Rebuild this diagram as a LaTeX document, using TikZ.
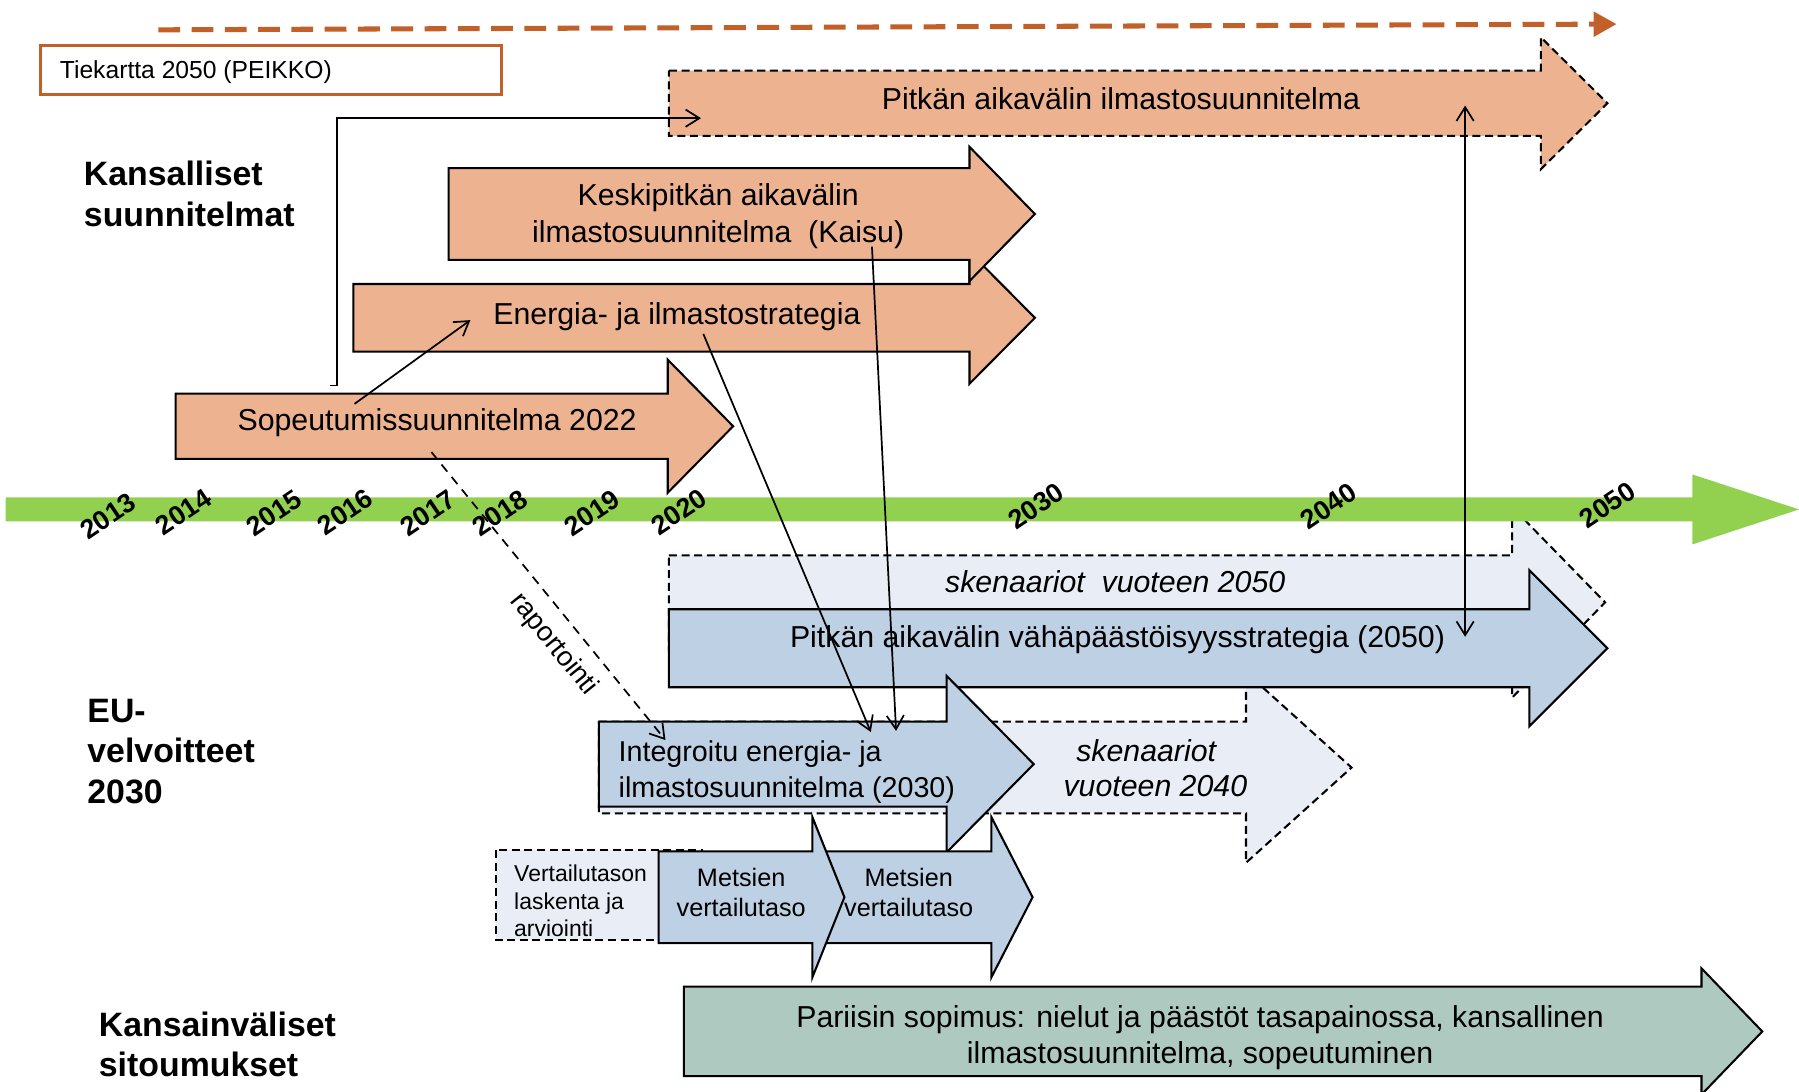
\documentclass[tikz,border=0pt]{standalone}
\usepackage{fontspec}
\setmainfont{Liberation Sans}
\usetikzlibrary{arrows.meta}
\definecolor{salmon}{RGB}{237,178,144}
\definecolor{bluefill}{RGB}{190,208,227}
\definecolor{lightfill}{RGB}{233,238,246}
\definecolor{parisfill}{RGB}{174,201,192}
\definecolor{greenbar}{RGB}{146,208,80}
\definecolor{rust}{RGB}{194,96,42}
% [style] xleft xbase xtip ycenter bodyhalf headhalf
\newcommand{\fatarrow}[7][]{\path[#1] (#2,#5-#6) -- (#3,#5-#6) -- (#3,#5-#7) -- (#4,#5) -- (#3,#5+#7) -- (#3,#5+#6) -- (#2,#5+#6) -- cycle;}
\tikzset{
  outl/.style={draw=black, line width=1.8pt, line join=miter},
  dsh/.style={dash pattern=on 7pt off 4pt},
  barb/.tip={Straight Barb[length=12pt,width=15pt,line width=1.5pt]},
  conn/.style={draw=black, line width=1.5pt, -barb},
  lbl/.style={inner sep=0pt, anchor=base},
  fbig/.style={font=\fontsize{26.4}{32}\selectfont},
  fbigi/.style={font=\fontsize{26.4}{32}\selectfont\itshape},
  fint/.style={font=\fontsize{25}{30}\selectfont},
  fmet/.style={font=\fontsize{22}{26}\selectfont},
  fver/.style={font=\fontsize{20}{24}\selectfont},
  ftie/.style={font=\fontsize{21.5}{26}\selectfont},
  fsec/.style={font=\fontsize{29.5}{36}\selectfont\bfseries},
  year/.style={inner sep=0pt, rotate=34, font=\fontsize{23.5}{26}\selectfont\bfseries},
}
\begin{document}
\begin{tikzpicture}[x=1pt,y=-1pt]
\useasboundingbox (0,0) rectangle (1568,951);

% road map dashed arrow
\coordinate (c-road0) at (138,26);
\coordinate (c-road1) at (1409,21);
\draw[rust, line width=4.4pt, dash pattern=on 19pt off 10pt, -{Triangle[length=20pt,width=21pt]}] (c-road0) -- (c-road1);

% Tiekartta box
\path[draw=rust, line width=2.5pt, fill=white] (35,40) rectangle (437,82);
\node[lbl, ftie, anchor=base west] (t-tie) at (52,68.7) {Tiekartta 2050 (PEIKKO)};

% national plans
\fatarrow[fill=salmon, outl, dsh]{583}{1343}{1401}{90}{28.5}{57.5}
\fatarrow[fill=salmon, outl]{308}{845}{902}{277}{29.5}{57.5}
\fatarrow[fill=salmon, outl]{391}{845}{902}{186.5}{40}{58.5}
\fatarrow[fill=salmon, outl]{153}{582}{639}{371.5}{28.5}{58}

\node[lbl, fbig] (t-pitka) at (977,95.5) {Pitkän aikavälin ilmastosuunnitelma};
\node[lbl, fbig] (t-kesk1) at (626,179.5) {Keskipitkän aikavälin};
\node[lbl, fbig] (t-kesk2) at (626,211.5) {ilmastosuunnitelma\ \ (Kaisu)};
\node[lbl, fbig] (t-ener) at (590,282.5) {Energia- ja ilmastostrategia};
\node[lbl, fbig] (t-sop) at (381,375.5) {Sopeutumissuunnitelma 2022};

% scenarios 2050 (behind timeline)
\fatarrow[fill=lightfill, outl, dsh]{583}{1318}{1399}{525}{41}{83}

% timeline
\fatarrow[fill=greenbar]{5}{1475}{1568}{444}{10.5}{30.5}
\foreach \yr/\xx/\yy in {2013/94/450, 2014/160/446, 2015/239/447, 2016/301/446, 2017/373/447, 2018/436/447, 2019/516/447, 2020/592/446, 2030/903/441, 2040/1158/441, 2050/1401/440}
  \node[year] (y\yr) at (\xx,\yy) {\yr};

% EU obligations
\fatarrow[fill=lightfill, outl, dsh]{522}{1086}{1178}{669}{40}{83}
\fatarrow[fill=bluefill, outl]{583}{1333}{1401}{565}{34}{68}
\fatarrow[fill=bluefill, outl]{522}{825}{901}{666}{37}{77}

\node[lbl, fbigi] (t-sk50) at (972,516.5) {skenaariot\ \ vuoteen 2050};
\node[lbl, fbig] (t-vaha) at (974,564.5) {Pitkän aikavälin vähäpäästöisyysstrategia (2050)};
\node[lbl, fbigi] (t-sk40a) at (999,663.5) {skenaariot};
\node[lbl, fbigi] (t-sk40b) at (1007,694.5) {vuoteen 2040};
\node[lbl, fint, anchor=base west] (t-int1) at (539,664) {Integroitu energia- ja};
\node[lbl, fint, anchor=base west] (t-int2) at (539,695) {ilmastosuunnitelma (2030)};

% forest reference levels
\path[fill=lightfill, draw=black, line width=1.8pt, dsh] (432,741) rectangle (612,819);
\fatarrow[fill=bluefill, outl]{708}{864}{900}{782}{40}{70}
\fatarrow[fill=bluefill, outl]{574}{708}{736}{782}{40}{70}
\node[lbl, fver, anchor=base west] (t-ver1) at (448,768) {Vertailutason};
\node[lbl, fver, anchor=base west] (t-ver2) at (448,793) {laskenta ja};
\node[lbl, fver, anchor=base west] (t-ver3) at (448,816) {arviointi};
\node[lbl, fmet] (t-met1a) at (646,773) {Metsien};
\node[lbl, fmet] (t-met1b) at (646,799) {vertailutaso};
\node[lbl, fmet] (t-met2a) at (792,773) {Metsien};
\node[lbl, fmet] (t-met2b) at (792,799) {vertailutaso};

% Paris agreement
\fatarrow[fill=parisfill, outl]{596}{1483}{1536}{899}{39}{55}
\node[lbl, fbig] (t-par1) at (1046,895.5) {Pariisin sopimus: nielut ja päästöt tasapainossa, kansallinen};
\node[lbl, fbig] (t-par2) at (1046,926.5) {ilmastosuunnitelma, sopeutuminen};

% connectors
\coordinate (c-elb0) at (288,336);
\coordinate (c-elb1) at (611,103);
\draw[conn] (c-elb0) -- ++(6,0) |- (c-elb1);
\coordinate (c-sop) at (309,352);
\coordinate (c-ener) at (410,279);
\draw[conn] (c-sop) -- (c-ener);
\coordinate (c-ener0) at (613,291);
\coordinate (c-int1) at (759,638);
\draw[conn] (c-ener0) -- (c-int1);
\coordinate (c-kesk0) at (760,215);
\coordinate (c-int2) at (781,637);
\draw[conn] (c-kesk0) -- (c-int2);
\coordinate (c-pitka) at (1277,92);
\coordinate (c-vaha) at (1277,555);
\draw[conn, barb-barb] (c-pitka) -- (c-vaha);
\coordinate (c-rap0) at (376,394);
\coordinate (c-rap1) at (580,645);
\draw[conn, dash pattern=on 8pt off 6pt] (c-rap0) -- (c-rap1);
\node[inner sep=0pt, rotate=-51, font=\fontsize{24}{28}\selectfont] (t-rap) at (482.5,561.6) {raportointi};

% section labels
\node[lbl, fsec, anchor=base west] (s-kan1) at (73,161.6) {Kansalliset};
\node[lbl, fsec, anchor=base west] (s-kan2) at (73,197.6) {suunnitelmat};
\node[lbl, fsec, anchor=base west] (s-eu1) at (76,629.6) {EU-};
\node[lbl, fsec, anchor=base west] (s-eu2) at (76,664.6) {velvoitteet};
\node[lbl, fsec, anchor=base west] (s-eu3) at (76,700.6) {2030};
\node[lbl, fsec, anchor=base west] (s-int1) at (86,903.6) {Kansainväliset};
\node[lbl, fsec, anchor=base west] (s-int2) at (86,938.6) {sitoumukset};
\end{tikzpicture}
\end{document}
